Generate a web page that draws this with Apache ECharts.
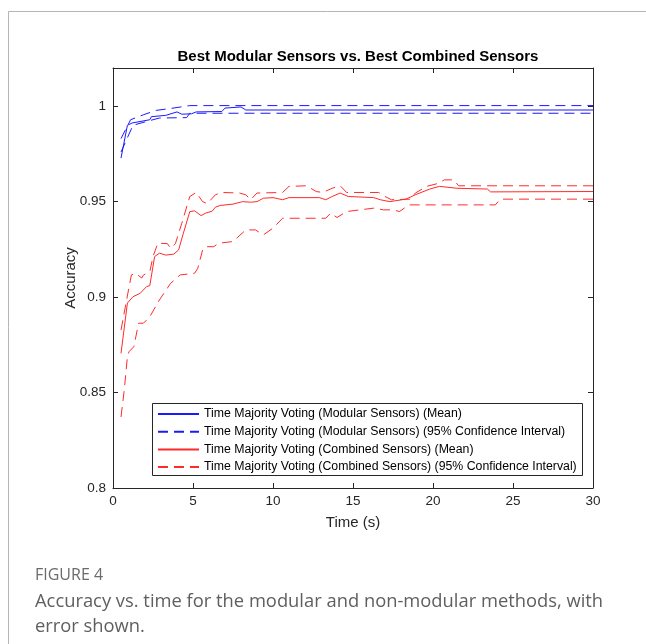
<!DOCTYPE html>
<html>
<head>
<meta charset="utf-8">
<script src="https://cdn.jsdelivr.net/npm/echarts@6/dist/echarts.min.js"></script>
<style>
html,body{margin:0;padding:0;background:#fff;}
#chart{width:646px;height:644px;}
</style>
</head>
<body>
<div id="chart"></div>
<script>
// ---- data ----
const title = 'Best Modular Sensors vs. Best Combined Sensors';
const xName = 'Time (s)';
const yName = 'Accuracy';
const xTicks = [0, 5, 10, 15, 20, 25, 30];
const yTicks = [0.8, 0.85, 0.9, 0.95, 1];
const seriesNames = [
  'Time Majority Voting (Modular Sensors) (Mean)',
  'Time Majority Voting (Modular Sensors) (95% Confidence Interval)',
  'Time Majority Voting (Combined Sensors) (Mean)',
  'Time Majority Voting (Combined Sensors) (95% Confidence Interval)'
];

const modMeanT = [0.5, 0.9, 1.2, 2.3, 2.4, 3.3, 4.0, 4.3, 4.9, 5.2, 6.8, 7.0, 8.0, 8.3, 30];
const modMeanV = [0.9728, 0.9900, 0.9912, 0.9929, 0.9945, 0.9952, 0.9970, 0.9958, 0.9960, 0.9970, 0.9972, 0.9990, 0.9996, 0.9980, 0.9980];

const modUpT = [0.5, 1.1, 1.9, 2.7, 3.6, 4.8, 30];
const modUpV = [0.9830, 0.9929, 0.9955, 0.9978, 0.9988, 1.0003, 1.0003];

const modLoT = [0.5, 1.25, 2.1, 2.9, 4.6, 4.8, 30];
const modLoV = [0.9760, 0.9900, 0.9920, 0.9938, 0.9940, 0.9963, 0.9963];

const comMeanT = [0.5, 0.9, 1.25, 1.7, 2.1, 2.3, 2.6, 2.9, 3.3, 3.8, 4.1, 4.4, 4.8, 5.1, 5.5, 5.8, 6.2, 6.4, 6.7, 7.5, 8.1, 8.6, 9.0, 9.4, 10.0, 10.6, 11.0, 12.9, 13.3, 13.7, 14.2, 14.7, 16.3, 16.7, 17.3, 18.3, 18.9, 19.8, 20.4, 21.5, 23.4, 23.6, 30];
const comMeanV = [0.8705, 0.8969, 0.9002, 0.9020, 0.9055, 0.9060, 0.9212, 0.9230, 0.9220, 0.9225, 0.9247, 0.9335, 0.9448, 0.9452, 0.9427, 0.9440, 0.9450, 0.9471, 0.9480, 0.9487, 0.9500, 0.9497, 0.9500, 0.9518, 0.9521, 0.9510, 0.9521, 0.9521, 0.9510, 0.9527, 0.9545, 0.9527, 0.9521, 0.9510, 0.9500, 0.9513, 0.9536, 0.9566, 0.9580, 0.9570, 0.9566, 0.9551, 0.9553];

const comUpT = [0.5, 0.85, 1.15, 1.4, 1.8, 1.9, 2.3, 2.5, 2.8, 3.4, 3.6, 3.9, 4.3, 4.8, 5.2, 5.6, 5.9, 6.4, 6.8, 7.9, 8.3, 8.6, 9.0, 10.6, 11.0, 12.1, 12.7, 13.1, 13.7, 14.2, 14.6, 16.6, 17.0, 17.4, 18.6, 18.9, 19.6, 20.4, 20.7, 21.3, 21.6, 30];
const comUpV = [0.8827, 0.8985, 0.9116, 0.9125, 0.9100, 0.9115, 0.9133, 0.9212, 0.9282, 0.9280, 0.9256, 0.9280, 0.9387, 0.9527, 0.9548, 0.9500, 0.9490, 0.9536, 0.9548, 0.9545, 0.9536, 0.9510, 0.9545, 0.9548, 0.9580, 0.9583, 0.9553, 0.9548, 0.9570, 0.9583, 0.9548, 0.9548, 0.9527, 0.9510, 0.9513, 0.9545, 0.9580, 0.9597, 0.9614, 0.9614, 0.9583, 0.9583];

const comLoT = [0.5, 0.7, 0.9, 1.0, 1.3, 1.6, 1.9, 2.3, 2.9, 3.6, 4.2, 5.1, 5.3, 5.6, 5.8, 6.3, 6.6, 7.5, 8.3, 8.9, 9.4, 10.0, 10.6, 13.3, 13.6, 14.0, 14.6, 16.3, 16.9, 17.5, 17.9, 18.5, 23.9, 24.2, 30];
const comLoV = [0.8372, 0.8510, 0.8687, 0.8714, 0.8740, 0.8863, 0.8863, 0.8897, 0.8985, 0.9072, 0.9116, 0.9125, 0.9151, 0.9247, 0.9264, 0.9264, 0.9282, 0.9291, 0.9352, 0.9352, 0.9326, 0.9361, 0.9413, 0.9413, 0.9440, 0.9417, 0.9448, 0.9466, 0.9457, 0.9457, 0.9448, 0.9483, 0.9483, 0.9513, 0.9513];

// ---- build ----
const pairs = (t, v) => t.map((x, i) => [x, v[i]]);
const BLUE = '#1a1aff', RED = '#ff2b2b', AX = '#262626';
const FONT = '"Liberation Sans", Arial, sans-serif';
const DASH = [10, 6];

function line(name, t, v, color, dashed) {
  return {
    type: 'line', name: name, data: pairs(t, v), symbol: 'none', showSymbol: false,
    silent: true, animation: false,
    lineStyle: { color: color, width: 1, type: dashed ? DASH : 'solid' },
    itemStyle: { color: color }
  };
}

const chart = echarts.init(document.getElementById('chart'), null, { renderer: 'canvas' });
const axisCommon = {
  axisLine: { show: true, onZero: false, lineStyle: { color: AX, width: 1 } },
  axisTick: { show: true, inside: true, length: 5, lineStyle: { color: AX } },
  splitLine: { show: false }
};
const yFmt = v => yTicks.some(t => Math.abs(t - v) < 1e-6) ? String(+v.toFixed(2)) : '';
const xFmt = v => xTicks.some(t => Math.abs(t - v) < 1e-6) ? String(v) : '';

chart.setOption({
  backgroundColor: '#fff',
  animation: false,
  title: {
    text: title, left: 353, top: 44, textAlign: 'center',
    textStyle: { fontFamily: FONT, fontSize: 15, fontWeight: 'bold', color: '#000' }
  },
  grid: { left: 113, right: 53, top: 68, bottom: 156, containLabel: false },
  xAxis: [
    Object.assign({}, axisCommon, {
      type: 'value', min: 0, max: 30, interval: 5, position: 'bottom',
      name: xName, nameLocation: 'middle', nameGap: 27, nameMoveOverlap: false,
      nameTextStyle: { fontFamily: FONT, fontSize: 15, color: AX },
      axisLabel: { formatter: xFmt, fontFamily: FONT, fontSize: 13.5, color: AX, margin: 6 }
    }),
    Object.assign({}, axisCommon, {
      type: 'value', min: 0, max: 30, interval: 5, position: 'top',
      axisLabel: { show: false }
    })
  ],
  yAxis: [
    Object.assign({}, axisCommon, {
      type: 'value', min: 0.8, max: 1.02, interval: 0.05, position: 'left',
      name: yName, nameLocation: 'middle', nameGap: 35, nameRotate: 90, nameMoveOverlap: false,
      nameTextStyle: { fontFamily: FONT, fontSize: 15, color: AX },
      axisLabel: { formatter: yFmt, fontFamily: FONT, fontSize: 13.5, color: AX, margin: 7 }
    }),
    Object.assign({}, axisCommon, {
      type: 'value', min: 0.8, max: 1.02, interval: 0.05, position: 'right',
      axisLabel: { show: false }
    })
  ],
  legend: {
    orient: 'vertical', left: 157, top: 408, padding: 0,
    itemWidth: 41, itemHeight: 14, itemGap: 5.7,
    data: seriesNames,
    selectedMode: false,
    itemStyle: { opacity: 0 },
    textStyle: { fontFamily: FONT, fontSize: 12.3, color: '#000' }
  },
  series: [
    line(seriesNames[0], modMeanT, modMeanV, BLUE, false),
    line(seriesNames[1], modUpT, modUpV, BLUE, true),
    line(seriesNames[1], modLoT, modLoV, BLUE, true),
    line(seriesNames[2], comMeanT, comMeanV, RED, false),
    line(seriesNames[3], comUpT, comUpV, RED, true),
    line(seriesNames[3], comLoT, comLoV, RED, true)
  ],
  graphic: [
    { type: 'rect', shape: { x: 152.5, y: 403.5, width: 430, height: 72 }, style: { fill: '#fff', stroke: AX, lineWidth: 1 }, z: 0, zlevel: 0 },
    { type: 'line', shape: { x1: 8.5, y1: 11.5, x2: 646, y2: 11.5 }, style: { stroke: '#b5b5b5', lineWidth: 1 } },
    { type: 'line', shape: { x1: 8.5, y1: 11.5, x2: 8.5, y2: 644 }, style: { stroke: '#b5b5b5', lineWidth: 1 } },
    { type: 'text', left: 35, top: 567, style: { text: 'FIGURE 4', font: '400 16px "Open Sans", sans-serif', fill: '#6b6b6b' } },
    { type: 'text', left: 35, top: 589, style: { text: 'Accuracy vs. time for the modular and non-modular methods, with\nerror shown.', font: '400 18.35px "Open Sans", sans-serif', lineHeight: 25, fill: '#5f5f5f' } }
  ]
});
</script>
</body>
</html>
